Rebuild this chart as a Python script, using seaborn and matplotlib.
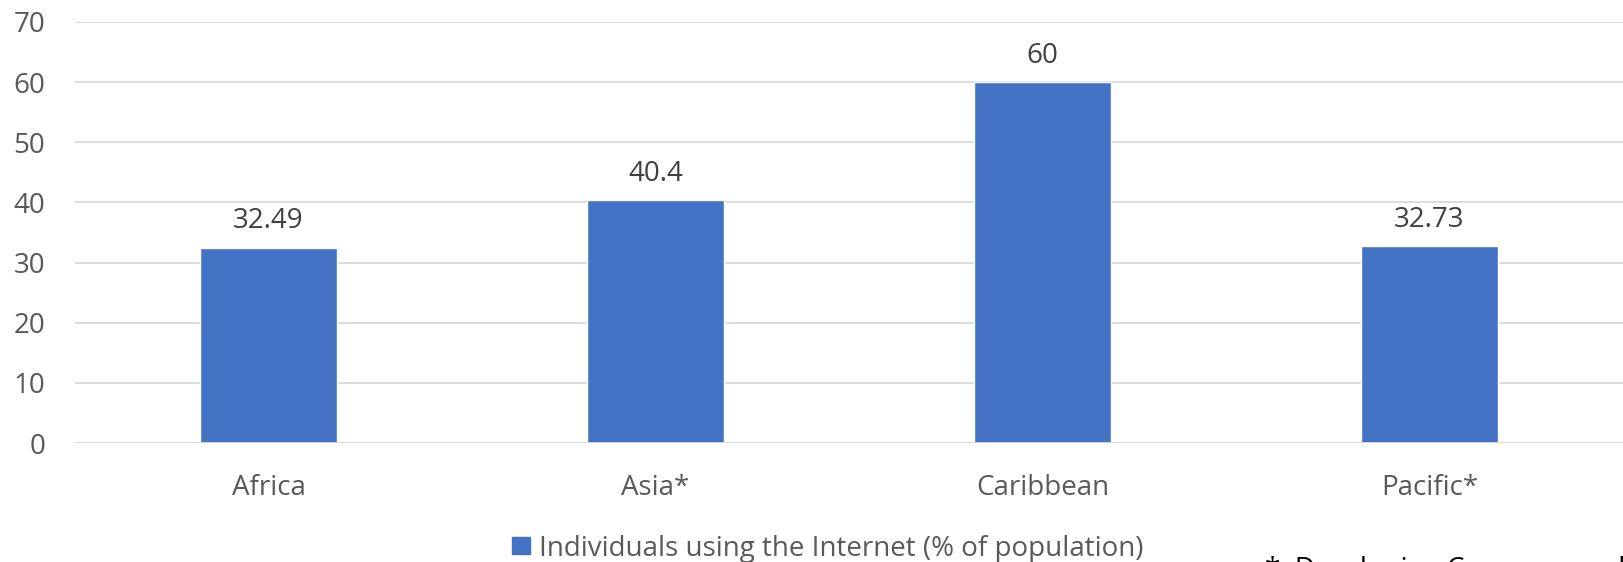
import matplotlib
matplotlib.use("Agg")
import matplotlib.pyplot as plt
import seaborn as sns
import pandas as pd
from matplotlib.patches import Rectangle

categories = ["Africa", "Asia*", "Caribbean", "Pacific*"]
values = [32.49, 40.4, 60, 32.73]
value_labels = ["32.49", "40.4", "60", "32.73"]
yticks = [0, 10, 20, 30, 40, 50, 60, 70]
series_name = "Individuals using the Internet (% of population)"
footnote = "*  Developing Commonwealth countries"

sns.set_theme(style="white")
plt.rcParams['font.family'] = ['Open Sans', 'DejaVu Sans']

TEXT = "#595959"
LABEL = "#404040"
BAR = "#4472C4"
GRID = "#D9D9D9"

W, H = 1623, 562
df = pd.DataFrame({"cat": categories, "val": values})

fig = plt.figure(figsize=(W / 100, H / 100), dpi=100)
ax = fig.add_axes([75 / W, 1 - 443 / H, (1623 - 75) / W, (443 - 22) / H])

sns.barplot(data=df, x="cat", y="val", color=BAR, width=0.354, ax=ax,
            saturation=1, zorder=3)

ax.set_ylim(0, 70)
ax.set_xlim(-0.5, 3.5)
ax.set_yticks(yticks)
ax.set_yticklabels([str(t) for t in yticks])
ax.yaxis.grid(True, color=GRID, linewidth=1.3, zorder=0)
ax.xaxis.grid(False)
for s in ax.spines.values():
    s.set_visible(False)
ax.axhline(0, color=GRID, linewidth=1.3, zorder=4)
ax.set_xlabel("")
ax.set_ylabel("")
ax.tick_params(axis='y', length=0, pad=21.5, labelsize=20, labelcolor=TEXT)
ax.tick_params(axis='x', length=0, pad=22, labelsize=20, labelcolor=TEXT)

for i, (v, lab) in enumerate(zip(values, value_labels)):
    ax.annotate(lab, (i, v), xytext=(0, 9), textcoords="offset points",
                ha="center", va="bottom", fontsize=20, color=LABEL)

# legend
fig.patches.append(Rectangle((512 / W, 1 - 554 / H), 18 / W, 17 / H,
                             transform=fig.transFigure, color=BAR))
fig.text(539 / W, 1 - 556 / H, series_name, ha="left", va="baseline",
         fontsize=20, color=TEXT)
fig.text(1265 / W, 1 - 577 / H, footnote, ha="left", va="baseline",
         fontsize=20, color="#000000")

fig.savefig("out.png", dpi=100, facecolor="white")
